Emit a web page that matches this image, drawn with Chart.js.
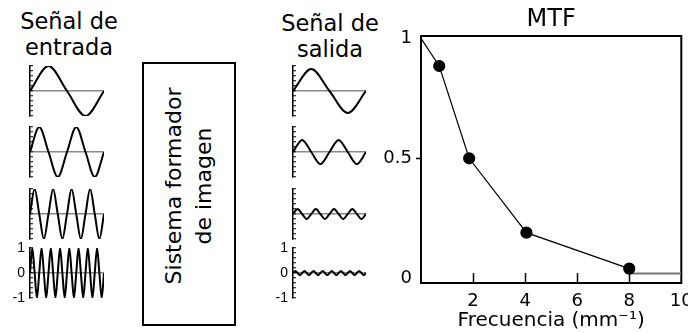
<!DOCTYPE html>
<html>
<head>
<meta charset="utf-8">
<script src="https://cdn.jsdelivr.net/npm/chart.js@4.4.1/dist/chart.umd.min.js"></script>
<style>
  body { margin: 0; background: #fff; }
  #page { position: relative; width: 688px; height: 333px; overflow: hidden; font-family: "DejaVu Sans", sans-serif; color: #000; }
  .head { position: absolute; text-align: center; font-size: 22.5px; line-height: 26px; }
  canvas { position: absolute; }
  #box { position: absolute; left: 142px; top: 62px; width: 94px; height: 264px; border: 2px solid #000; box-sizing: border-box; }
  #box span { position: absolute; left: 50%; top: 47%; transform: translate(-50%, -50%) rotate(-90deg); white-space: nowrap; text-align: center; font-size: 22px; line-height: 30px; }
</style>
</head>
<body>
<div id="page">
  <div class="head" style="left:0;top:8px;width:138px">Señal de<br>entrada</div>
  <div class="head" style="left:270px;top:10px;width:120px">Señal de<br>salida</div>
  <div id="box"><span>Sistema formador<br>de imagen</span></div>
  <canvas id="mtf" width="308" height="333" style="left:380px;top:0"></canvas>
</div>
<script>
// test signals: one row per frequency
const inputCycles = [1, 2, 4, 8];
const inputAmplitude = [1, 1, 1, 1];
const outputAmplitude = [0.88, 0.48, 0.2, 0.08];
const quarterLevels = [0, 1, 0, -1]; // zero, peak, zero, trough
const waveTicks = [-1, 0, 1];

// MTF curve
const mtfFreq = [0, 0.7, 1.85, 4.05, 8];
const mtfValue = [1, 0.885, 0.5, 0.19, 0.04];
const tailFreq = [8, 10];
const tailValue = [0.02, 0.02];
const freqTicks = [2, 4, 6, 8, 10];
const mtfTicks = [0, 0.5, 1];

const rowTop = [60, 121, 183, 242];

function wavePoints(cycles, amp) {
  const pts = [];
  for (let k = 0; k <= cycles * 4; k++) {
    pts.push({ x: k / 4, y: amp * quarterLevels[k % 4] });
  }
  return pts;
}

function drawWave(left, width, top, cycles, amp, labelled) {
  const cv = document.createElement("canvas");
  cv.width = width;
  cv.height = 62;
  cv.style.left = left + "px";
  cv.style.top = top + "px";
  document.getElementById("page").appendChild(cv);

  new Chart(cv, {
    type: "line",
    data: {
      datasets: [{
        data: wavePoints(cycles, amp),
        borderColor: "#000",
        borderWidth: 2,
        pointRadius: 0,
        cubicInterpolationMode: "monotone"
      }]
    },
    options: {
      responsive: false,
      animation: false,
      layout: { padding: { top: 6, bottom: 6 } },
      plugins: { legend: { display: false }, tooltip: { enabled: false } },
      scales: {
        x: { type: "linear", display: false, min: 0, max: cycles },
        y: {
          min: -1,
          max: 1,
          afterFit: function (s) { s.width = 30; s.paddingTop = 0; s.paddingBottom = 0; },
          ticks: {
            stepSize: 0.2,
            autoSkip: false,
            padding: 8,
            color: "#000",
            font: { family: "Liberation Sans", size: 14 },
            callback: function (v) {
              const r = Math.round(v * 10) / 10;
              return labelled && waveTicks.includes(r) ? String(r) : "";
            }
          },
          grid: {
            tickLength: -3,
            tickColor: "#000",
            tickWidth: 1,
            lineWidth: 1.5,
            color: function (c) {
              return c.tick && Math.abs(c.tick.value) < 1e-9 ? "#888" : "rgba(0,0,0,0)";
            }
          },
          border: { color: "#000", width: 1.5 }
        }
      }
    }
  });
}

for (let i = 0; i < inputCycles.length; i++) {
  const last = i === inputCycles.length - 1;
  drawWave(0, 104, rowTop[i], inputCycles[i], inputAmplitude[i], last);
  drawWave(263, 103, rowTop[i], inputCycles[i], outputAmplitude[i], last);
}

const frame = {
  id: "frame",
  beforeDatasetsDraw: function (chart) {
    const a = chart.chartArea;
    const ctx = chart.ctx;
    ctx.save();
    ctx.strokeStyle = "#000";
    ctx.lineWidth = 2;
    ctx.strokeRect(a.left, a.top, a.right - a.left, a.bottom - a.top);
    ctx.restore();
  }
};

new Chart(document.getElementById("mtf"), {
  type: "line",
  data: {
    datasets: [
      {
        data: mtfFreq.map((f, i) => ({ x: f, y: mtfValue[i] })),
        borderColor: "#000",
        borderWidth: 1.2,
        pointBackgroundColor: "#000",
        pointBorderColor: "#000",
        pointRadius: c => (c.dataIndex === 0 ? 0 : 5.5)
      },
      {
        data: tailFreq.map((f, i) => ({ x: f, y: tailValue[i] })),
        borderColor: "#777",
        borderWidth: 2,
        pointRadius: 0
      }
    ]
  },
  options: {
    responsive: false,
    animation: false,
    layout: { padding: { right: 3 } },
    plugins: {
      legend: { display: false },
      tooltip: { enabled: false },
      title: {
        display: true,
        fullSize: false,
        text: "MTF",
        color: "#000",
        font: { family: "DejaVu Sans", size: 24, weight: "normal" },
        padding: { top: 5, bottom: 2.2 }
      }
    },
    scales: {
      x: {
        type: "linear",
        min: 0,
        max: 10,
        afterBuildTicks: function (s) { s.ticks = freqTicks.map(v => ({ value: v })); },
        afterFit: function (s) { s.height = 50; s.paddingLeft = 0; s.paddingRight = 0; },
        ticks: { padding: 18, color: "#000", font: { family: "DejaVu Sans", size: 18 }, maxRotation: 0, autoSkip: false },
        grid: {
          drawOnChartArea: false,
          tickLength: -10,
          tickWidth: 1.5,
          tickColor: c => (c.tick && c.tick.value < 10 ? "#000" : "rgba(0,0,0,0)")
        },
        border: { color: "#000", width: 2 },
        title: {
          display: true,
          text: "Frecuencia (mm⁻¹)",
          color: "#000",
          font: { family: "DejaVu Sans", size: 20 },
          padding: { top: 0, bottom: 0 }
        }
      },
      y: {
        min: -0.02,
        max: 1.01,
        afterBuildTicks: function (s) { s.ticks = mtfTicks.map(v => ({ value: v })); },
        afterFit: function (s) { s.width = 41; s.paddingTop = 0; s.paddingBottom = 0; },
        ticks: {
          padding: 4,
          color: "#000",
          font: { family: "DejaVu Sans", size: 18 },
          callback: v => String(v)
        },
        grid: {
          drawOnChartArea: false,
          tickLength: 5,
          tickWidth: 1.5,
          tickColor: c => (c.tick && c.tick.value === 0.5 ? "#000" : "rgba(0,0,0,0)")
        },
        border: { color: "#000", width: 2 }
      }
    }
  },
  plugins: [frame]
});
</script>
</body>
</html>
